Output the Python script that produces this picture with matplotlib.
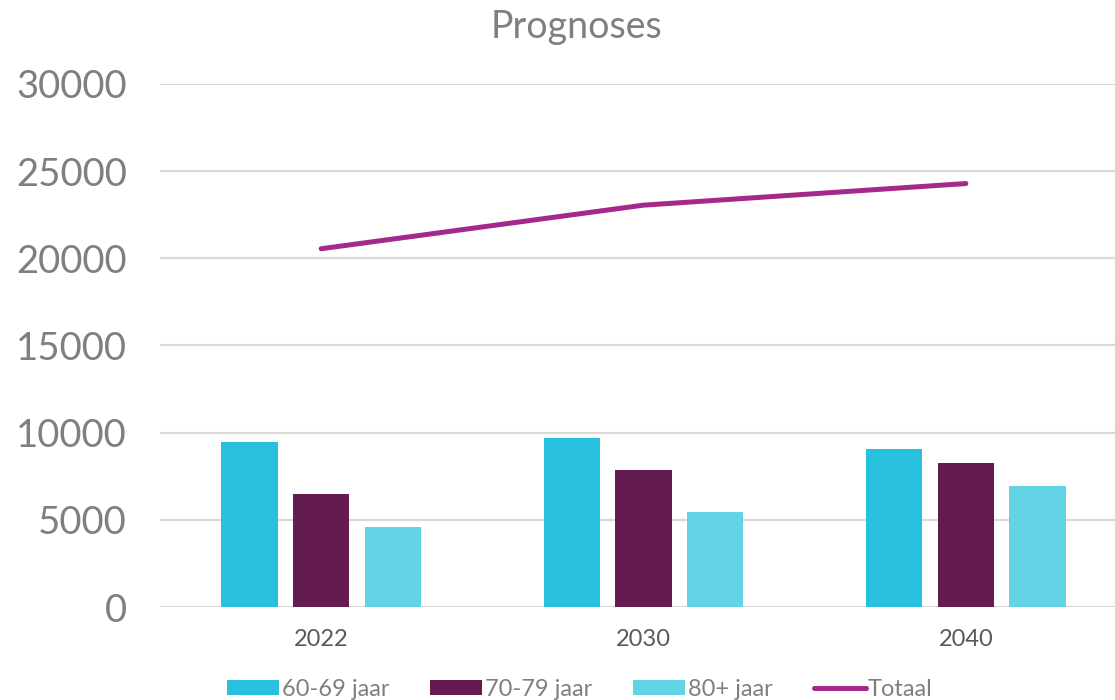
import matplotlib
matplotlib.use("Agg")
import matplotlib.pyplot as plt
import numpy as np

years = ["2022", "2030", "2040"]
age_60_69 = [9460, 9670, 9060]
age_70_79 = [6460, 7880, 8270]
age_80p = [4600, 5460, 6940]
totaal = [20550, 23050, 24290]
series_labels = ["60-69 jaar", "70-79 jaar", "80+ jaar", "Totaal"]
yticks = [0, 5000, 10000, 15000, 20000, 25000, 30000]

plt.rcParams['font.family'] = ['Lato', 'DejaVu Sans']

W, H = 1115, 700
fig = plt.figure(figsize=(W / 100, H / 100), dpi=100)
ax = fig.add_axes([160 / W, 93 / H, 967 / W, 523 / H])

x = np.arange(len(years))
bw = 0.175
off = 0.2226
colors = ["#27C0DE", "#641C50", "#63D3E6"]
handles = []
for i, (vals, c) in enumerate(zip([age_60_69, age_70_79, age_80p], colors)):
    h = ax.bar(x + (i - 1) * off, vals, width=bw, color=c, label=series_labels[i], zorder=3)
    handles.append(h)
ln, = ax.plot(x, totaal, color="#A4298A", linewidth=3.6, solid_capstyle='round',
              label=series_labels[3], zorder=4)
handles.append(ln)

ax.set_xlim(-0.5, 2.5)
ax.set_ylim(0, 30000)
ax.set_yticks(yticks)
ax.set_yticklabels([str(v) for v in yticks])
ax.set_xticks(x)
ax.set_xticklabels(years)
ax.yaxis.grid(True, color="#D9D9D9", linewidth=1.6, zorder=0)
ax.set_axisbelow(True)
for s in ax.spines.values():
    s.set_visible(False)
ax.tick_params(axis='y', length=0, labelsize=27.5, labelcolor="#7F7F7F", pad=24)
ax.tick_params(axis='x', length=0, labelsize=17, labelcolor="#595959", pad=16)

fig.text(577 / W, 1 - 27 / H, "Prognoses", ha='center', va='center',
         fontsize=27, color="#7F7F7F")

leg = fig.legend(handles, series_labels, loc='lower center',
                 bbox_to_anchor=(580 / W, -0.03), ncol=4,
                 frameon=False, fontsize=17, handlelength=2.2, handleheight=0.6,
                 columnspacing=1.75, handletextpad=0.1, labelcolor="#7F7F7F")

fig.savefig("out.png", dpi=100)
